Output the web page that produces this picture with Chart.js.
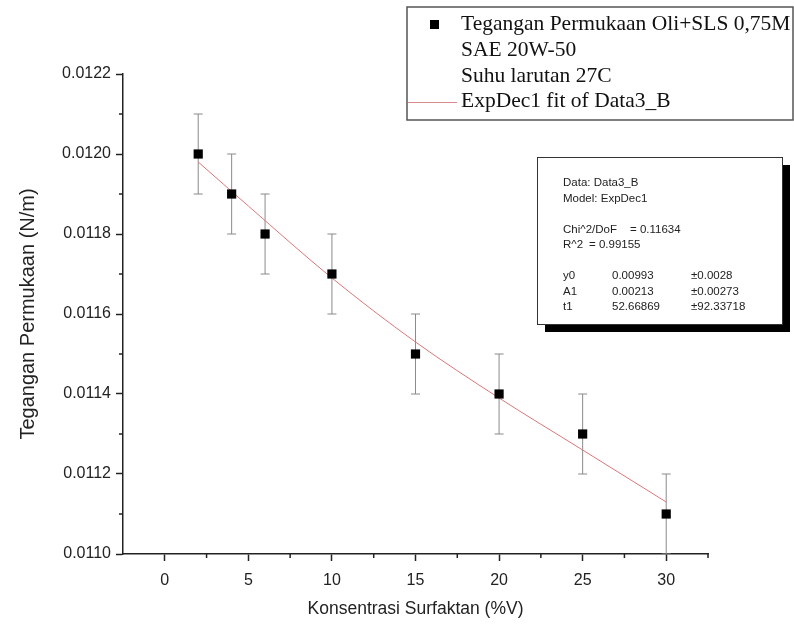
<!DOCTYPE html>
<html>
<head>
<meta charset="utf-8">
<script src="https://cdn.jsdelivr.net/npm/chart.js@4.4.0/dist/chart.umd.min.js"></script>
<style>
  html, body { margin: 0; padding: 0; background: #fff; overflow: hidden; }
  #grafico { display: block; }
</style>
</head>
<body>
<canvas id="grafico" width="794" height="628"></canvas>
<script>
// data
const konsentrasi = [2, 4, 6, 10, 15, 20, 25, 30];
const tegangan = [0.0120, 0.0119, 0.0118, 0.0117, 0.0115, 0.0114, 0.0113, 0.0111];
const galat = [0.0001, 0.0001, 0.0001, 0.0001, 0.0001, 0.0001, 0.0001, 0.0001];

// ExpDec1 fit curve
const fitX = [2, 5, 10, 15, 20, 25, 30];
const fitY = [0.01198, 0.01187, 0.01169, 0.01153, 0.01139, 0.01126, 0.01113];

const xTicks = [0, 5, 10, 15, 20, 25, 30];
const yTicks = [0.0110, 0.0112, 0.0114, 0.0116, 0.0118, 0.0120, 0.0122];

const legendaTxt = [
    "Tegangan Permukaan Oli+SLS 0,75M",
    "SAE 20W-50",
    "Suhu larutan 27C",
    "ExpDec1 fit of Data3_B",
];

const statsTxt = [
    ["Data: Data3_B"],
    ["Model: ExpDec1"],
    [],
    ["Chi^2/DoF", "= 0.11634"],
    ["R^2", "= 0.99155"],
    [],
    ["y0", "0.00993", "±0.0028"],
    ["A1", "0.00213", "±0.00273"],
    ["t1", "52.66869", "±92.33718"],
];

const SANS = 'Arial, "Liberation Sans", sans-serif';
const SERIF = '"Times New Roman", "Liberation Serif", serif';

const extras = {
    id: "extras",
    beforeDatasetsDraw(chart) {
        const { ctx, scales: { x, y }, chartArea } = chart;
        ctx.save();
        ctx.beginPath();
        ctx.rect(chartArea.left, chartArea.top - 1, chartArea.width, chartArea.height + 1);
        ctx.clip();
        ctx.strokeStyle = "#8a8a8a";
        ctx.lineWidth = 1;
        konsentrasi.forEach((k, i) => {
            const px = x.getPixelForValue(k);
            const top = y.getPixelForValue(tegangan[i] + galat[i]);
            const bot = y.getPixelForValue(tegangan[i] - galat[i]);
            ctx.beginPath();
            ctx.moveTo(px, top);
            ctx.lineTo(px, bot);
            ctx.moveTo(px - 4.5, top);
            ctx.lineTo(px + 4.5, top);
            ctx.moveTo(px - 4.5, bot);
            ctx.lineTo(px + 4.5, bot);
            ctx.stroke();
        });
        ctx.restore();
    },
    afterDraw(chart) {
        const { ctx, scales: { x, y }, chartArea } = chart;
        ctx.save();

        // minor ticks
        ctx.strokeStyle = "#222";
        ctx.lineWidth = 1.5;
        ctx.beginPath();
        for (let i = 0; i < xTicks.length; i++) {
            const px = x.getPixelForValue(xTicks[i] + 2.5);
            ctx.moveTo(px, chartArea.bottom);
            ctx.lineTo(px, chartArea.bottom + 4);
        }
        for (let i = 0; i < yTicks.length - 1; i++) {
            const py = y.getPixelForValue((yTicks[i] + yTicks[i + 1]) / 2);
            ctx.moveTo(chartArea.left, py);
            ctx.lineTo(chartArea.left - 4, py);
        }
        ctx.stroke();

        // legend box
        ctx.fillStyle = "#fff";
        ctx.fillRect(407, 7, 386, 113);
        ctx.strokeStyle = "#555";
        ctx.lineWidth = 1.5;
        ctx.strokeRect(407, 7, 386, 113);
        ctx.fillStyle = "#000";
        ctx.fillRect(430, 20, 9, 9);
        ctx.strokeStyle = "#d98a8c";
        ctx.lineWidth = 1;
        ctx.beginPath();
        ctx.moveTo(408, 102.5);
        ctx.lineTo(457, 102.5);
        ctx.stroke();
        ctx.fillStyle = "#111";
        ctx.font = `21.5px ${SERIF}`;
        ctx.textBaseline = "middle";
        const filasLeyenda = [24, 50, 76, 101];
        legendaTxt.forEach((t, i) => ctx.fillText(t, 461, filasLeyenda[i]));

        // stats box with shadow
        ctx.fillStyle = "#000";
        ctx.fillRect(545, 165, 245, 167);
        ctx.fillStyle = "#fff";
        ctx.fillRect(537, 157, 245, 167);
        ctx.strokeStyle = "#333";
        ctx.lineWidth = 1;
        ctx.strokeRect(537.5, 157.5, 245, 167);
        ctx.fillStyle = "#222";
        ctx.font = `11.5px ${SANS}`;
        const colX = {
            3: [563, 630],
            4: [563, 589],
            6: [563, 612, 691],
            7: [563, 612, 691],
            8: [563, 612, 691],
        };
        let fy = 183;
        statsTxt.forEach((fila, i) => {
            const xs = colX[i] || [563];
            fila.forEach((t, j) => ctx.fillText(t, xs[j], fy));
            fy += 15.5;
        });
        ctx.restore();
    },
};

const ctx = document.querySelector("#grafico").getContext("2d");
new Chart(ctx, {
    type: "scatter",
    data: {
        datasets: [
            {
                label: "ExpDec1 fit of Data3_B",
                type: "line",
                data: fitX.map((v, i) => ({ x: v, y: fitY[i] })),
                borderColor: "#d9777a",
                borderWidth: 1,
                pointRadius: 0,
                cubicInterpolationMode: "monotone",
                order: 2,
            },
            {
                label: legendaTxt[0],
                data: konsentrasi.map((v, i) => ({ x: v, y: tegangan[i] })),
                pointStyle: "rect",
                pointRadius: 6.5,
                backgroundColor: "#000",
                borderColor: "#000",
                borderWidth: 0,
                order: 1,
            },
        ],
    },
    options: {
        responsive: false,
        animation: false,
        layout: { padding: { top: 74, right: 86, left: 0, bottom: 0 } },
        plugins: {
            legend: { display: false },
            tooltip: { enabled: false },
        },
        scales: {
            x: {
                type: "linear",
                min: -2.5,
                max: 32.5,
                afterBuildTicks: (s) => { s.ticks = xTicks.map((v) => ({ value: v })); },
                afterFit: (s) => { s.height = 74; },
                grid: { drawOnChartArea: false, tickLength: 7, tickColor: "#222", tickWidth: 1.5 },
                border: { color: "#222", width: 1.5 },
                ticks: {
                    font: { family: SANS, size: 16 },
                    color: "#222",
                    padding: 10,
                    maxRotation: 0,
                },
                title: {
                    display: true,
                    text: "Konsentrasi Surfaktan (%V)",
                    font: { family: SANS, size: 17.5 },
                    color: "#222",
                    padding: { top: 0, bottom: 8 },
                },
            },
            y: {
                type: "linear",
                min: 0.0110,
                max: 0.0122,
                afterBuildTicks: (s) => { s.ticks = yTicks.map((v) => ({ value: v })); },
                afterFit: (s) => { s.width = 123; },
                grid: { drawOnChartArea: false, tickLength: 7, tickColor: "#222", tickWidth: 1.5 },
                border: { color: "#222", width: 1.5 },
                ticks: {
                    font: { family: SANS, size: 16 },
                    color: "#222",
                    padding: 5,
                    callback: (v) => v.toFixed(4),
                },
                title: {
                    display: true,
                    text: "Tegangan Permukaan (N/m)",
                    font: { family: SANS, size: 20 },
                    color: "#222",
                    padding: { top: 16, bottom: 0 },
                },
            },
        },
    },
    plugins: [extras],
});
</script>
</body>
</html>
